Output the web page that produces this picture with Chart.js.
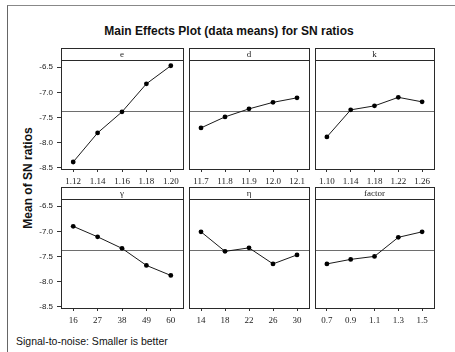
<!DOCTYPE html>
<html>
<head>
<meta charset="utf-8">
<script src="https://cdn.jsdelivr.net/npm/chart.js@4.4.1/dist/chart.umd.min.js"></script>
<style>
    body { margin: 0; background: #fff; width: 455px; height: 352px; overflow: hidden; position: relative; font-family: "Liberation Sans", Arial, sans-serif; }
    canvas { position: absolute; }
    #frame { position: absolute; left: 7px; top: 5px; width: 448px; height: 347px; border-left: 1px solid #666; border-top: 1px solid #888; }
    #title { position: absolute; left: 229px; top: 24px; transform: translateX(-50%); font-size: 12px; line-height: 14px; font-weight: bold; color: #111; white-space: nowrap; }
    #ylab { position: absolute; left: 28px; top: 178px; transform: translate(-50%, -50%) rotate(-90deg); font-size: 12px; line-height: 14px; font-weight: bold; color: #111; white-space: nowrap; }
    #foot { position: absolute; left: 16px; top: 335px; font-size: 10.5px; line-height: 12px; color: #111; white-space: nowrap; }
</style>
</head>
<body>
<div id="frame"></div>
<div id="title">Main Effects Plot (data means) for SN ratios</div>
<div id="ylab">Mean of SN ratios</div>
<div id="foot">Signal-to-noise: Smaller is better</div>

<script>
// factor names shown in the panel strips
const stripTitles = ['e', 'd', 'k', 'γ', 'η', 'factor'];

// factor levels (x tick labels) and mean SN ratio per level
const eLevels = ['1.12', '1.14', '1.16', '1.18', '1.20'];
const eMeans = [-8.39, -7.81, -7.39, -6.83, -6.47];

const dLevels = ['11.7', '11.8', '11.9', '12.0', '12.1'];
const dMeans = [-7.71, -7.49, -7.33, -7.20, -7.11];

const kLevels = ['1.10', '1.14', '1.18', '1.22', '1.26'];
const kMeans = [-7.89, -7.35, -7.27, -7.10, -7.19];

const gLevels = ['16', '27', '38', '49', '60'];
const gMeans = [-6.90, -7.11, -7.34, -7.68, -7.88];

const hLevels = ['14', '18', '22', '26', '30'];
const hMeans = [-7.01, -7.40, -7.33, -7.65, -7.47];

const fLevels = ['0.7', '0.9', '1.1', '1.3', '1.5'];
const fMeans = [-7.65, -7.56, -7.50, -7.12, -7.01];

// y axis
const yTicks = [-6.5, -7.0, -7.5, -8.0, -8.5];
const yMin = -8.53;
const yMax = -6.355;

// overall mean (reference line)
const grandMean = -7.37;

const levelLists = [eLevels, dLevels, kLevels, gLevels, hLevels, fLevels];
const meanLists = [eMeans, dMeans, kMeans, gMeans, hMeans, fMeans];

/* panel layout */
const colLeft = [61, 186, 312];
const colRight = [186, 312, 437];
const rowTop = [60, 199];
const plotH = 109;
const stripH = 12;
const axisH = 22;
const yAxisW = 50;

// strip, frame and mean line
const panelPlugin = {
    id: 'panel',
    beforeDatasetsDraw(chart) {
        const a = chart.chartArea;
        const ctx = chart.ctx;
        const y = Math.round(chart.scales.y.getPixelForValue(grandMean)) + 0.5;
        ctx.save();
        ctx.strokeStyle = '#6e6e6e';
        ctx.lineWidth = 1;
        ctx.beginPath();
        ctx.moveTo(a.left, y);
        ctx.lineTo(a.right, y);
        ctx.stroke();
        ctx.restore();
    },
    afterDraw(chart) {
        const a = chart.chartArea;
        const ctx = chart.ctx;
        ctx.save();
        ctx.strokeStyle = '#2a2a2a';
        ctx.lineWidth = 1;
        ctx.strokeRect(a.left + 0.5, a.top - stripH + 0.5, a.right - a.left, a.bottom - a.top + stripH);
        ctx.beginPath();
        ctx.moveTo(a.left, a.top + 0.5);
        ctx.lineTo(a.right + 1, a.top + 0.5);
        ctx.stroke();
        ctx.fillStyle = '#222';
        ctx.font = '9px "Liberation Serif", serif';
        ctx.textAlign = 'center';
        ctx.textBaseline = 'middle';
        ctx.fillText(chart.options.plugins.panel.label, (a.left + a.right) / 2, a.top - stripH / 2 + 0.5);
        ctx.restore();
    }
};

for (let p = 0; p < 6; p++) {
    const row = Math.floor(p / 3);
    const col = p % 3;
    const leftExtra = col === 0 ? yAxisW : 1;

    const canvas = document.createElement('canvas');
    canvas.width = leftExtra + (colRight[col] - colLeft[col]) + 1;
    canvas.height = 1 + stripH + plotH + axisH;
    canvas.style.left = (colLeft[col] - leftExtra) + 'px';
    canvas.style.top = (rowTop[row] - stripH - 1) + 'px';
    canvas.style.width = canvas.width + 'px';
    canvas.style.height = canvas.height + 'px';
    document.body.appendChild(canvas);

    new Chart(canvas.getContext('2d'), {
        type: 'line',
        data: {
            labels: levelLists[p],
            datasets: [{
                data: meanLists[p],
                borderColor: '#1a1a1a',
                borderWidth: 1,
                pointRadius: 2.4,
                pointBackgroundColor: '#000',
                pointBorderWidth: 0,
                tension: 0
            }]
        },
        options: {
            responsive: false,
            animation: false,
            devicePixelRatio: 1,
            layout: { padding: { top: 1 + stripH, left: col === 0 ? 0 : 1, right: 1, bottom: 0 } },
            plugins: {
                legend: { display: false },
                tooltip: { enabled: false },
                panel: { label: stripTitles[p] }
            },
            scales: {
                x: {
                    type: 'category',
                    offset: true,
                    grid: { offset: false, drawOnChartArea: false, drawTicks: true, tickLength: 3, color: '#333' },
                    border: { display: false },
                    ticks: {
                        autoSkip: false, maxRotation: 0, padding: 4, color: '#222',
                        font: { family: '"Liberation Serif", serif', size: 9 }
                    },
                    afterFit: s => { s.height = axisH; }
                },
                y: {
                    type: 'linear',
                    min: yMin,
                    max: yMax,
                    display: col === 0,
                    grid: { drawOnChartArea: false, drawTicks: true, tickLength: 4, color: '#333' },
                    border: { display: false },
                    afterBuildTicks: s => { s.ticks = yTicks.map(v => ({ value: v })); },
                    ticks: {
                        padding: 4, color: '#222',
                        font: { family: '"Liberation Sans", sans-serif', size: 8 },
                        callback: v => v.toFixed(1)
                    },
                    afterFit: s => { s.width = col === 0 ? yAxisW : 0; }
                }
            }
        },
        plugins: [panelPlugin]
    });
}
</script>
</body>
</html>
